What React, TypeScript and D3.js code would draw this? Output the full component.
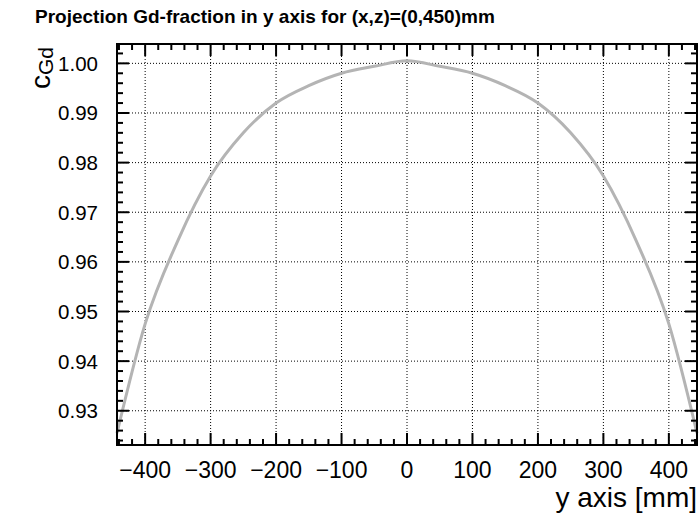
import React, { useEffect, useRef } from "react";
import * as d3 from "d3";

// position along y axis [mm] and the Gd fraction
const yPos = [-443, -400, -350, -300, -250, -200, -150, -100, -50, 0, 50, 100, 150, 200, 250, 300, 350, 400, 443];
const cGd = [
  0.9255, 0.9475, 0.9643, 0.9773, 0.986, 0.992, 0.9955, 0.998, 0.9994, 1.0005,
  0.9994, 0.998, 0.9955, 0.992, 0.986, 0.9773, 0.9643, 0.9475, 0.9255,
];

const xMajor = [-400, -300, -200, -100, 0, 100, 200, 300, 400];
const yMajor = [0.93, 0.94, 0.95, 0.96, 0.97, 0.98, 0.99, 1.0];

export default function App() {
  const svgRef = useRef<SVGSVGElement>(null);

  useEffect(() => {
    const svg = d3.select(svgRef.current);
    svg.selectAll("*").remove();
    const width = 700;
    const height = 513;
    const margin = { top: 44, right: 3, bottom: 68, left: 117 };
    const font = "'Liberation Sans', Arial, Helvetica, sans-serif";

    const x = d3.scaleLinear().domain([-443, 443]).range([margin.left, width - margin.right]);
    const y = d3.scaleLinear().domain([0.9231, 1.0039]).range([height - margin.bottom, margin.top]);
    const [x0, x1] = x.range();
    const [y1, y0] = y.range();

    // grid
    const grid = svg.append("g").attr("stroke", "#000").attr("stroke-width", 1).attr("stroke-dasharray", "1,2");
    grid.selectAll("line.gx").data(xMajor).enter().append("line")
      .attr("x1", (d) => x(d)).attr("x2", (d) => x(d)).attr("y1", y0).attr("y2", y1);
    grid.selectAll("line.gy").data(yMajor).enter().append("line")
      .attr("y1", (d) => y(d)).attr("y2", (d) => y(d)).attr("x1", x0).attr("x2", x1);

    // curve
    const line = d3.line<number>()
      .x((_, i) => x(yPos[i]))
      .y((d) => y(d))
      .curve(d3.curveMonotoneX);
    svg.append("path")
      .datum(cGd)
      .attr("d", line)
      .attr("fill", "none")
      .attr("stroke", "#b4b4b4")
      .attr("stroke-width", 3);

    // ticks
    const ticks = svg.append("g").attr("stroke", "#000").attr("stroke-width", 2);
    const xMinor = d3.range(-440, 441, 20);
    xMinor.forEach((v) => {
      const major = v % 100 === 0;
      const len = major ? 12 : 6;
      ticks.append("line").attr("x1", x(v)).attr("x2", x(v)).attr("y1", y1).attr("y2", y1 - len);
      ticks.append("line").attr("x1", x(v)).attr("x2", x(v)).attr("y1", y0).attr("y2", y0 + len);
    });
    const yMinor = d3.range(924, 1004, 2).map((v) => v / 1000);
    yMinor.forEach((v) => {
      const major = Math.round(v * 1000) % 10 === 0;
      const len = major ? 12 : 6;
      ticks.append("line").attr("y1", y(v)).attr("y2", y(v)).attr("x1", x0).attr("x2", x0 + len);
      ticks.append("line").attr("y1", y(v)).attr("y2", y(v)).attr("x1", x1).attr("x2", x1 - len);
    });

    // frame
    svg.append("rect")
      .attr("x", x0).attr("y", y0)
      .attr("width", x1 - x0).attr("height", y1 - y0)
      .attr("fill", "none").attr("stroke", "#000").attr("stroke-width", 2);

    // tick labels
    svg.append("g").selectAll("text").data(xMajor).enter().append("text")
      .attr("x", (d) => x(d)).attr("y", y1 + 33)
      .attr("text-anchor", "middle")
      .attr("font-family", font).attr("font-size", 23)
      .text((d) => (d < 0 ? "\u2212" + Math.abs(d) : String(d)));
    svg.append("g").selectAll("text").data(yMajor).enter().append("text")
      .attr("x", x0 - 19).attr("y", (d) => y(d) + 7.5)
      .attr("text-anchor", "end")
      .attr("font-family", font).attr("font-size", 20.5)
      .text((d) => d.toFixed(2));

    // axis titles
    svg.append("text")
      .attr("x", x1).attr("y", 507)
      .attr("text-anchor", "end")
      .attr("font-family", font).attr("font-size", 28)
      .text("y axis [mm]");
    const yt = svg.append("text")
      .attr("transform", "translate(50,47) rotate(-90)")
      .attr("text-anchor", "end")
      .attr("font-family", font).attr("font-size", 28);
    yt.append("tspan").text("c");
    yt.append("tspan").attr("font-size", 21).attr("dy", 3).text("Gd");

    // title
    svg.append("text")
      .attr("x", 35).attr("y", 23)
      .attr("font-family", font).attr("font-size", 19).attr("font-weight", "bold")
      .text("Projection Gd-fraction in y axis for (x,z)=(0,450)mm");
  }, []);

  return <svg ref={svgRef} width={700} height={513} style={{ position: "absolute", left: 0, top: 0 }} />;
}
